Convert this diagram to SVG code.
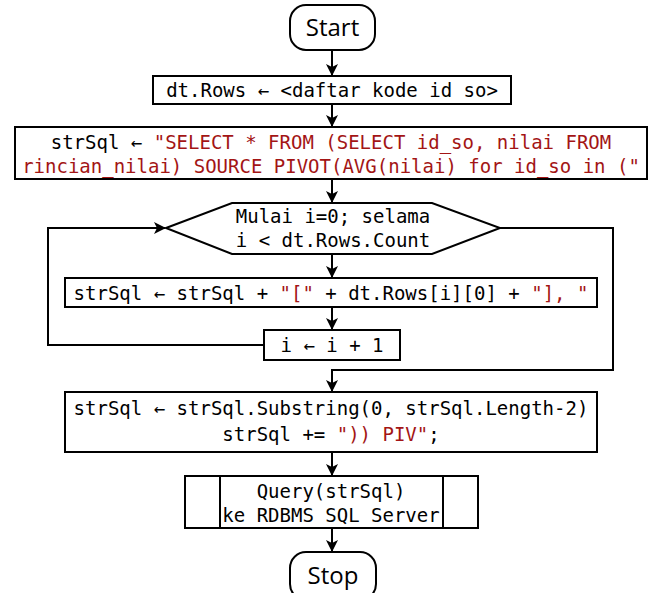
<svg xmlns="http://www.w3.org/2000/svg" width="653" height="593" viewBox="0 0 653 593">
<style>
.box{fill:#fff;stroke:#000;stroke-width:2}
.t{font-family:"DejaVu Sans Mono","Liberation Mono",monospace;font-size:19px;fill:#000;text-anchor:middle}
.s{fill:#a31515}
.term{font-family:"Open Sans","Liberation Sans",sans-serif;font-size:24px;fill:#000;text-anchor:middle}
.c{fill:none;stroke:#000;stroke-width:2}
</style>
<defs>
<marker id="ah" viewBox="0 0 12 12" refX="11" refY="6" markerWidth="12" markerHeight="12" markerUnits="userSpaceOnUse" orient="auto">
<path d="M0,0 L12,6 L0,12 L3,6 Z" fill="#000"/>
</marker>
</defs>
<rect width="653" height="593" fill="#fff"/>
<g id="connectors">
<line class="c" x1="332" y1="50" x2="332" y2="75" marker-end="url(#ah)"/>
<line class="c" x1="332" y1="104" x2="332" y2="126" marker-end="url(#ah)"/>
<line class="c" x1="332" y1="179" x2="332" y2="202" marker-end="url(#ah)"/>
<line class="c" x1="332" y1="254" x2="332" y2="277" marker-end="url(#ah)"/>
<line class="c" x1="332" y1="307" x2="332" y2="329" marker-end="url(#ah)"/>
<polyline class="c" points="264,345 48,345 48,228 165,228" marker-end="url(#ah)"/>
<polyline class="c" points="500,228 613,228 613,370 332,370 332,391" marker-end="url(#ah)"/>
<line class="c" x1="332" y1="452" x2="332" y2="475" marker-end="url(#ah)"/>
<line class="c" x1="332" y1="528" x2="332" y2="551" marker-end="url(#ah)"/>
</g>
<g id="start">
<rect class="box" x="290" y="5" width="85" height="45" rx="16" ry="16"/>
<text class="term" x="332.5" y="36">Start</text>
</g>
<g id="init-rows">
<rect class="box" x="153" y="76" width="358" height="28"/>
<text class="t" x="332" y="97">dt.Rows ← &lt;daftar kode id so&gt;</text>
</g>
<g id="init-sql">
<rect class="box" x="15" y="127" width="632" height="52"/>
<text class="t" x="331" y="149">strSql ← <tspan class="s">"SELECT * FROM (SELECT id_so, nilai FROM</tspan></text>
<text class="t s" x="331" y="173">rincian_nilai) SOURCE PIVOT(AVG(nilai) for id_so in ("</text>
</g>
<g id="loop">
<polygon class="box" points="166,228 232,203 432,203 500,228 432,254 232,254"/>
<text class="t" x="333" y="223">Mulai i=0; selama</text>
<text class="t" x="333" y="247">i &lt; dt.Rows.Count</text>
</g>
<g id="append">
<rect class="box" x="65" y="278" width="532" height="29"/>
<text class="t" x="331" y="300">strSql ← strSql + <tspan class="s">"["</tspan> + dt.Rows[i][0] + <tspan class="s">"], "</tspan></text>
</g>
<g id="increment">
<rect class="box" x="264" y="330" width="136" height="30"/>
<text class="t" x="332" y="352">i ← i + 1</text>
</g>
<g id="finish-sql">
<rect class="box" x="65" y="392" width="532" height="60"/>
<text class="t" x="331" y="415">strSql ← strSql.Substring(0, strSql.Length-2)</text>
<text class="t" x="331" y="441">strSql += <tspan class="s">")) PIV"</tspan>;</text>
</g>
<g id="query">
<rect class="box" x="185" y="476" width="293" height="52"/>
<line class="c" x1="220" y1="476" x2="220" y2="528"/>
<line class="c" x1="443" y1="476" x2="443" y2="528"/>
<text class="t" x="331" y="498">Query(strSql)</text>
<text class="t" x="331" y="522">ke RDBMS SQL Server</text>
</g>
<g id="stop">
<rect class="box" x="290" y="552" width="86" height="48" rx="16" ry="16"/>
<text class="term" x="333" y="584">Stop</text>
</g>
</svg>
